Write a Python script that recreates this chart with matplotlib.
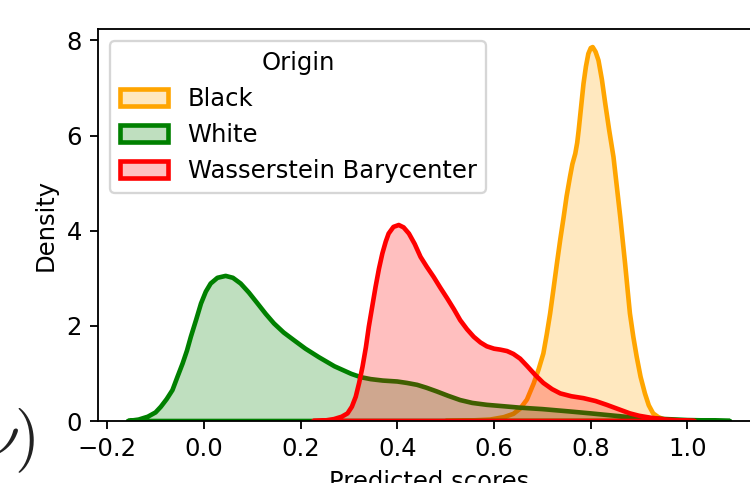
import numpy as np
import matplotlib.pyplot as plt
from matplotlib.colors import to_rgb
from matplotlib.patches import Patch

# ── Data (KDE curves: x grid, density) ──
black_x = [0.50, 0.55, 0.592, 0.620, 0.640, 0.654, 0.668, 0.682, 0.692, 0.702, 0.709,
           0.716, 0.723, 0.730, 0.737, 0.744, 0.750, 0.757, 0.762, 0.768, 0.772,
           0.775, 0.780, 0.785, 0.790, 0.795, 0.800, 0.804, 0.810, 0.816, 0.823,
           0.830, 0.838, 0.847, 0.854, 0.861, 0.866, 0.871, 0.876, 0.881, 0.888,
           0.895, 0.903, 0.912, 0.920, 0.929, 0.940, 0.950, 0.970, 0.990]
black_y = [0.00, 0.01, 0.03, 0.08, 0.15, 0.26, 0.45, 0.79, 1.08, 1.42, 1.82,
           2.26, 2.78, 3.31, 3.82, 4.29, 4.72, 5.13, 5.40, 5.62, 5.85,
           6.11, 6.60, 7.09, 7.45, 7.72, 7.84, 7.86, 7.76, 7.58, 7.18,
           6.67, 6.12, 5.55, 4.92, 4.29, 3.80, 3.31, 2.78, 2.26, 1.77,
           1.35, 0.93, 0.58, 0.33, 0.16, 0.08, 0.04, 0.01, 0.00]

white_x = [-0.157, -0.135, -0.116, -0.100, -0.089, -0.077, -0.065, -0.055, -0.044, -0.035,
           -0.027, -0.016, -0.006, 0.004, 0.014, 0.028, 0.045, 0.060, 0.076, 0.093,
           0.111, 0.128, 0.145, 0.165, 0.186, 0.210, 0.238, 0.270, 0.305, 0.325,
           0.345, 0.370, 0.400, 0.420, 0.441, 0.460, 0.482, 0.505, 0.530, 0.555,
           0.585, 0.620, 0.654, 0.700, 0.757, 0.800, 0.840, 0.881, 0.936, 1.000,
           1.050, 1.088]
white_y = [0.00, 0.03, 0.09, 0.18, 0.30, 0.46, 0.65, 0.92, 1.21, 1.48,
           1.77, 2.13, 2.47, 2.72, 2.89, 3.01, 3.05, 3.01, 2.89, 2.70,
           2.47, 2.25, 2.05, 1.86, 1.70, 1.52, 1.34, 1.15, 0.99, 0.92,
           0.88, 0.85, 0.83, 0.80, 0.76, 0.70, 0.62, 0.53, 0.44, 0.38,
           0.34, 0.31, 0.28, 0.25, 0.20, 0.16, 0.12, 0.08, 0.05, 0.02,
           0.01, 0.00]

bary_x = [0.226, 0.250, 0.269, 0.285, 0.297, 0.306, 0.314, 0.321, 0.328, 0.335,
          0.341, 0.348, 0.355, 0.362, 0.369, 0.376, 0.382, 0.392, 0.403, 0.413,
          0.424, 0.436, 0.448, 0.461, 0.475, 0.489, 0.503, 0.517, 0.530, 0.544,
          0.558, 0.572, 0.585, 0.600, 0.613, 0.627, 0.640, 0.654, 0.668, 0.685,
          0.702, 0.720, 0.737, 0.760, 0.785, 0.810, 0.833, 0.857, 0.881, 0.900,
          0.923, 0.957, 0.990, 1.015]
bary_y = [0.00, 0.01, 0.04, 0.09, 0.16, 0.30, 0.51, 0.80, 1.14, 1.55,
          1.98, 2.40, 2.82, 3.20, 3.52, 3.77, 3.94, 4.08, 4.12, 4.07,
          3.94, 3.72, 3.45, 3.24, 3.03, 2.80, 2.58, 2.35, 2.12, 1.93,
          1.77, 1.65, 1.57, 1.52, 1.50, 1.47, 1.41, 1.31, 1.16, 0.97,
          0.80, 0.67, 0.58, 0.52, 0.48, 0.42, 0.34, 0.25, 0.16, 0.11,
          0.07, 0.03, 0.01, 0.00]

labels = ["Black", "White", "Wasserstein Barycenter"]
colors = ["orange", "green", "red"]

# ── Figure ───────────────────────────────────────────────────
DPI = 166
plt.rcParams["font.size"] = 10.5
fig = plt.figure(figsize=(750 / DPI, 483 / DPI), dpi=DPI)
# axes runs past the right edge (reference is a crop of a larger figure)
ax = fig.add_axes([98 / 750, 62 / 483, 662 / 750, 392 / 483])

for xs, ys, c in zip([black_x, white_x, bary_x], [black_y, white_y, bary_y], colors):
    ax.fill_between(xs, ys, 0, facecolor=c, alpha=0.25, edgecolor="none")
    ax.fill_between(xs, ys, 0, facecolor="none", edgecolor=c, linewidth=2.0,
                    joinstyle="round")

ax.set_xlim(-0.219, 1.150)
ax.set_ylim(0, 8.24)
ax.set_xticks([-0.2, 0.0, 0.2, 0.4, 0.6, 0.8, 1.0])
ax.set_yticks([0, 2, 4, 6, 8])
ax.set_xlabel("Predicted scores")
ax.set_ylabel("Density")

handles = [Patch(facecolor=(*to_rgb(c), 0.25), edgecolor=c, linewidth=2.0)
           for c in colors]
ax.legend(handles, labels, title="Origin", loc="upper left")

# fragment of surrounding document text at the left edge
fig.text(36 / 750, 26 / 483, r"$\nu)$", ha="right", va="baseline",
         fontsize=28, math_fontfamily="cm", color="#222222")

fig.savefig("out.png", dpi=DPI)
